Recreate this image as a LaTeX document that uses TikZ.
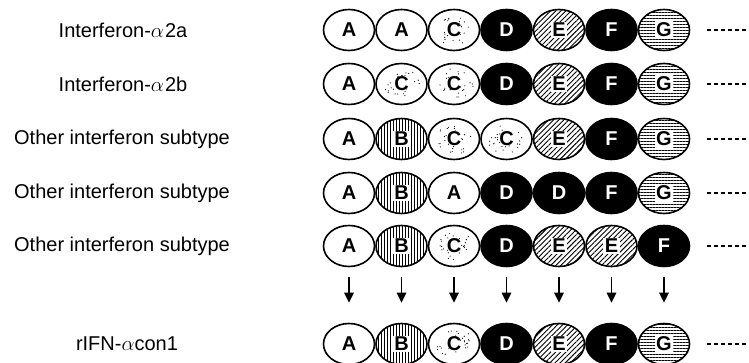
\documentclass[tikz,border=0pt]{standalone}
\usepackage{fontspec}
\setmainfont{Liberation Sans}
\usetikzlibrary{shapes.geometric, patterns.meta, arrows.meta}
\begin{document}
\begin{tikzpicture}[x=1pt,y=1pt,
  seg/.style={ellipse, draw=black, line width=1.6pt, minimum width=51pt, minimum height=41pt, inner sep=0pt},
  let/.style={font=\fontsize{20}{20}\selectfont\bfseries, inner sep=1.5pt},
  segA/.style={seg, fill=white, label={[let]center:A}},
  segB/.style={seg, pattern={Lines[angle=90,distance=3pt,line width=0.9pt]}, label={[let, fill=white]center:B}},
  segC/.style={seg, fill=white, label={[let, fill=white, inner sep=0.5pt]center:C}},
  segD/.style={seg, fill=black, label={[let, text=white]center:D}},
  segE/.style={seg, pattern={Lines[angle=45,distance=3.6pt,line width=0.9pt]}, label={[let, fill=white]center:E}},
  segF/.style={seg, fill=black, label={[let, text=white]center:F}},
  segG/.style={seg, pattern={Lines[angle=0,distance=3pt,line width=0.9pt]}, label={[let, fill=white]center:G}},
  speck/.style={fill=black},
  lbl/.style={font=\fontsize{20}{20}\selectfont, inner sep=0pt},
  dashline/.style={line width=2.6pt, dash pattern=on 4pt off 3pt, shorten <=17pt},
  arr/.style={line width=1.3pt, -{Triangle[length=10pt,width=9.5pt]}, shorten <=10pt, shorten >=20pt}
]
\useasboundingbox (0,0) rectangle (749,363);
\pgfmathsetseed{11}
\foreach \r/\y/\lst in {1/333/{A,A,C,D,E,F,G},2/279/{A,C,C,D,E,F,G},3/224/{A,B,C,C,E,F,G},4/170/{A,B,A,D,D,F,G},5/117/{A,B,C,D,E,E,F},6/19/{A,B,C,D,E,F,G}}{
  \foreach \L [count=\c] in \lst {
    \node[seg\L] (r\r c\c) at ({349+52.5*(\c-1)},\y) {};
    \if\L C
      \foreach \k in {1,...,26}{
        \pgfmathsetmacro\ang{rnd*360}
        \pgfmathsetmacro\rad{0.35+0.55*rnd}
        \fill[speck] ([shift={({\rad*22*cos(\ang)},{\rad*17*sin(\ang)})}]r\r c\c.center) circle (0.6pt);
      }
    \fi
  }
  \coordinate (e\r) at (749,\y);
  \draw[dashline] (r\r c7.east) -- (e\r);
}
\foreach \c in {1,...,7} {
  \draw[arr] (r5c\c.south) -- (r6c\c.north);
}
\node[lbl] (t1) at (123,333) {Interferon-$\alpha$\kern1pt 2a};
\node[lbl] (t2) at (123,279) {Interferon-$\alpha$\kern1pt 2b};
\node[lbl] (t3) at (122,224) {Other interferon subtype};
\node[lbl] (t4) at (122,170) {Other interferon subtype};
\node[lbl] (t5) at (122,117) {Other interferon subtype};
\node[lbl] (t6) at (127,19) {rIFN-$\alpha$con1};
\end{tikzpicture}
\end{document}
